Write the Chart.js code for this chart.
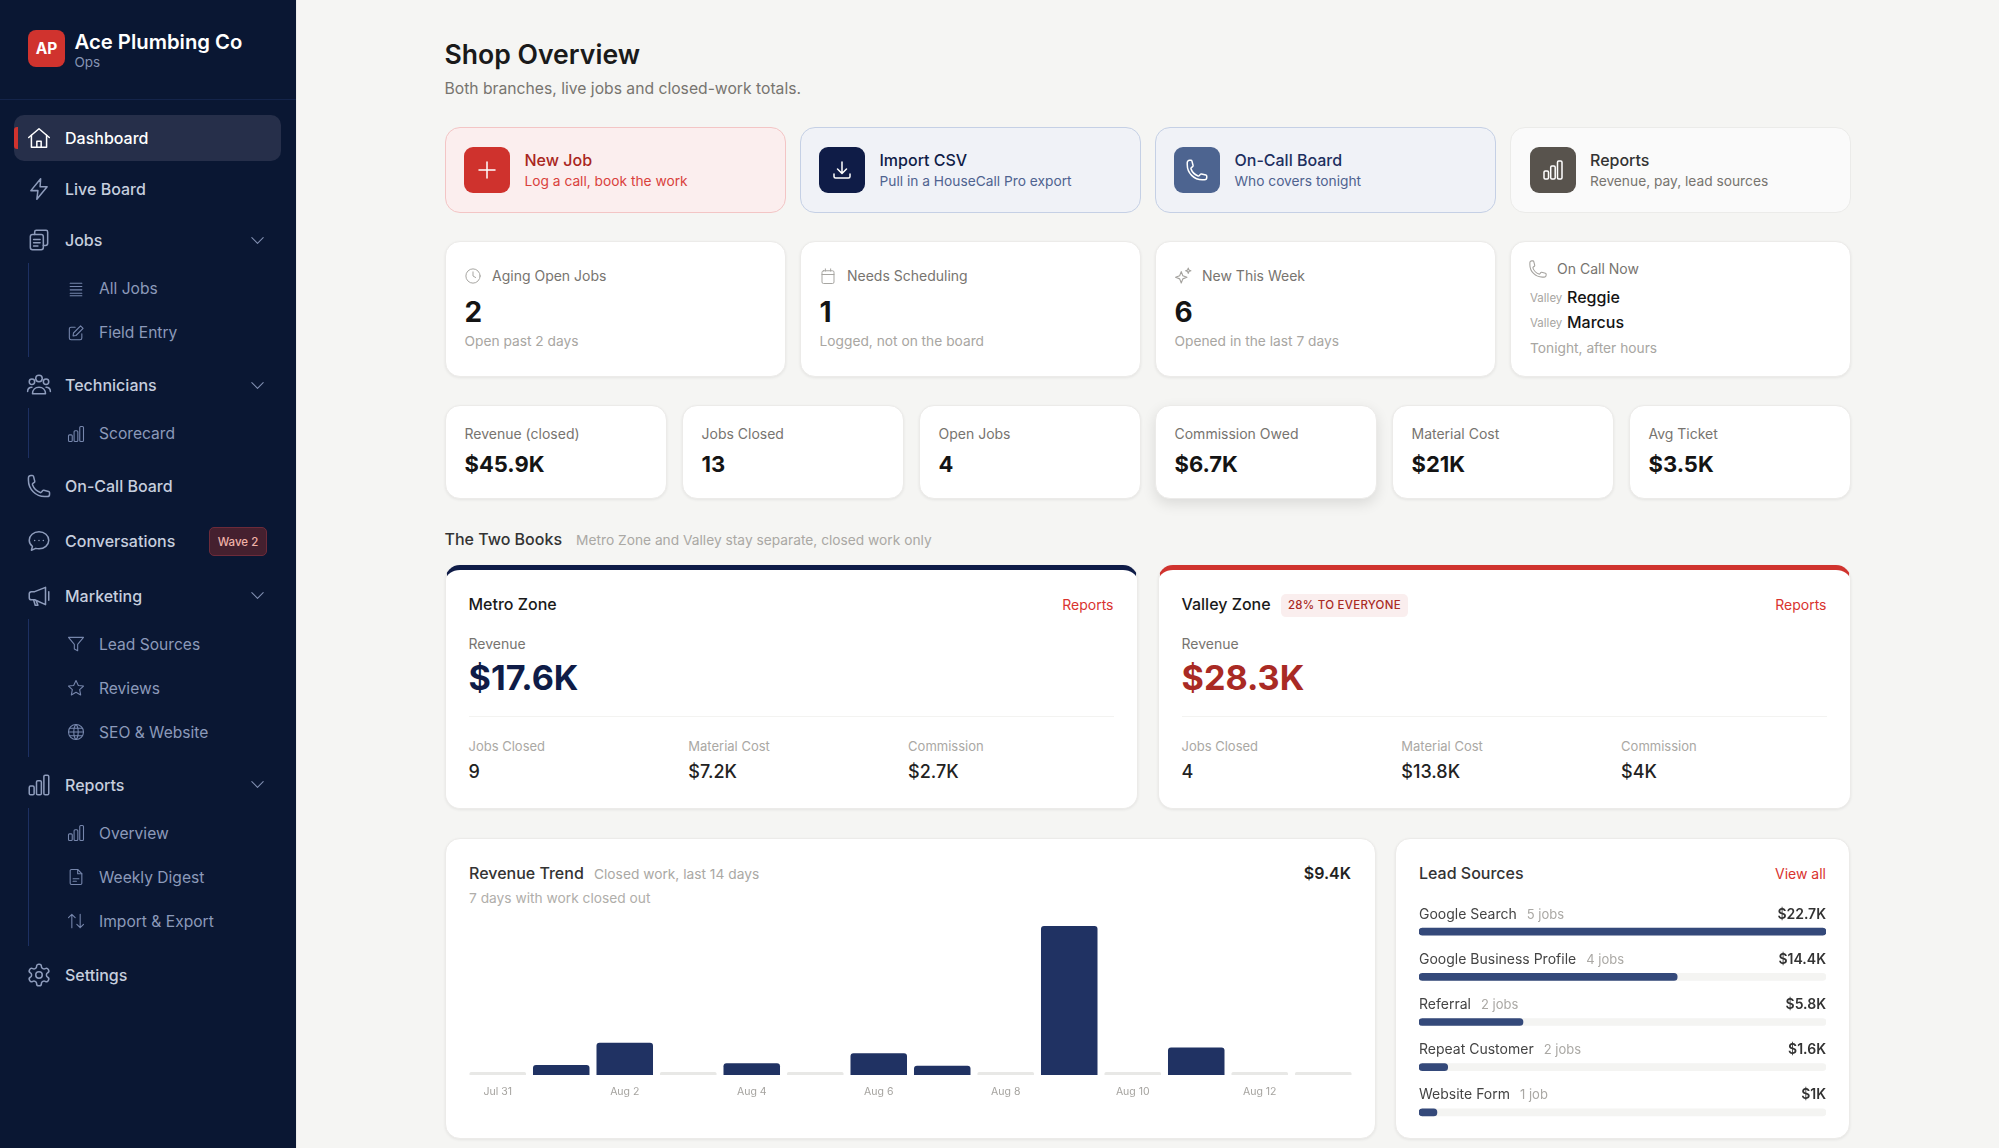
<!DOCTYPE html>
<html>
<head>
<meta charset="utf-8">
<title>Shop Overview</title>
<script src="https://cdn.jsdelivr.net/npm/chart.js@4"></script>
<style>
*{box-sizing:border-box;margin:0;padding:0}
html,body{width:1999px;height:1148px;overflow:hidden;background:#f5f5f3;font-family:Inter,"Noto Sans",sans-serif;-webkit-font-smoothing:antialiased}
#side{position:absolute;left:0;top:0;width:297px;height:1148px;background:#0a1733;border-right:1px solid #ececea}
#logo{position:absolute;left:28px;top:30px;width:37px;height:37px;border-radius:8px;background:#d0332e;color:#fff;font-weight:700;font-size:15.500px;display:flex;align-items:center;justify-content:center}
#brand{position:absolute;left:74.500px;top:28.500px;color:#fff;font-size:20.300px;font-weight:600;line-height:26px;white-space:nowrap}
#ops{position:absolute;left:74.500px;top:54px;color:#8593b2;font-size:13.500px;line-height:16px}
#rule{position:absolute;left:0;top:99px;width:296px;height:1px;background:#14244a}
#nav{position:absolute;left:14px;top:115px;width:267px}
.item{position:relative;height:46px;margin-bottom:5px;display:flex;align-items:center;color:#c6cede;font-size:16px;font-weight:500;border-radius:10px}
.item svg.ic{position:absolute;left:12px;top:10px;width:26px;height:26px}
.item span{position:absolute;left:51px}
.item .chev{position:absolute;left:235px;top:14.500px;width:17px;height:17px}
.item.on{background:#262f4a;color:#fff}
.item.on::before{content:"";position:absolute;left:0;top:12px;width:4px;height:22px;background:#d0332e;border-radius:3px 0 0 3px}
.wave{position:absolute;left:195px;top:9px;width:58px;height:29px;border:1px solid #6d2b3a;background:#45202f;color:#f0b2a8;border-radius:5px;font-size:11.500px;font-weight:500;display:flex;align-items:center;justify-content:center}
.group{margin:-5px 0 5px 14px;padding:3.500px 0 2.500px;border-left:1px solid #1d3062;width:253px}
.sub{position:relative;height:44px;display:flex;align-items:center;color:#8c9aba;font-size:15.600px}
.sub svg{position:absolute;left:37px;top:12px;width:20px;height:20px}
.sub span{position:absolute;left:70px}
.t{position:absolute;white-space:nowrap;transform:translateY(-50%);line-height:1.2}
.r{transform:translate(-100%,-50%)}
.box{position:absolute;border-radius:15px;background:#fff;border:1px solid #ecebe9;box-shadow:0 1px 3px rgba(0,0,0,.07)}
.tile{position:absolute;width:46px;height:46px;border-radius:9px;display:flex;align-items:center;justify-content:center}
.tile svg{width:24px;height:24px}
.smic{position:absolute;width:18px;height:18px;transform:translate(-50%,-50%)}
canvas{display:block}
#trendWrap{position:absolute;left:465.500px;top:926px;width:889px;height:184px}
#leadWrap{position:absolute;left:1419px;top:909px;width:407px;height:226px}
</style>
</head>
<body>
<div id="side">
  <div id="logo">AP</div>
  <div id="brand">Ace Plumbing Co</div>
  <div id="ops">Ops</div>
  <div id="rule"></div>
  <div id="nav"></div>
</div>
<div id="trendWrap"><canvas id="trend"></canvas></div>
<div id="leadWrap"><canvas id="lead"></canvas></div>
<script>
// chart data
const trendDays = ["Jul 31","Aug 1","Aug 2","Aug 3","Aug 4","Aug 5","Aug 6","Aug 7","Aug 8","Aug 9","Aug 10","Aug 11","Aug 12","Aug 13"];
const trendRevenue = [0,0.36,1.16,0,0.42,0,0.78,0.33,0,5.36,0,0.99,0,0];
const leadNames = ["Google Search","Google Business Profile","Referral","Repeat Customer","Website Form"];
const leadJobs = ["5 jobs","4 jobs","2 jobs","2 jobs","1 job"];
const leadRevenue = [22.7,14.4,5.8,1.6,1.0];
const leadLabels = ["$22.7K","$14.4K","$5.8K","$1.6K","$1K"];

const paths = {
  home:'<path d="M2.500 11.500 12 3.500l9.500 8"/><path d="M5 9.500V20.500h14V9.500"/><path d="M10 20.500v-5.500h4v5.500"/>',
  bolt:'<path d="M13.500 2.500 4.500 13.500H11l-1 8 9.500-11.500H13z"/>',
  jobs:'<rect x="4" y="7" width="12" height="14" rx="2"/><path d="M8 7V4.500A1.500 1.500 0 0 1 9.500 3h9A1.500 1.500 0 0 1 20 4.500V15a2 2 0 0 1-2 2h-2"/><path d="M7 11.500h6M7 14.500h6M7 17.500h4"/>',
  list:'<path d="M5 5h14M5 9h14M5 13h14M5 17h14M5 20h14"/>',
  edit:'<path d="M11 5H6a2 2 0 0 0-2 2v11a2 2 0 0 0 2 2h11a2 2 0 0 0 2-2v-5"/><path d="M17.500 3.500l3 3L12 15l-3.500.5.5-3.500z"/>',
  users:'<circle cx="12" cy="6" r="3"/><circle cx="5.500" cy="9" r="2.500"/><circle cx="18.500" cy="9" r="2.500"/><path d="M6 20c0-3.500 2.500-6 6-6s6 2.500 6 6z"/><path d="M1.500 18c0-2.500 1.500-4 4-4M22.500 18c0-2.500-1.500-4-4-4"/>',
  bars:'<rect x="3" y="13" width="4.500" height="8" rx="1.200"/><rect x="9.700" y="8" width="4.500" height="13" rx="1.200"/><rect x="16.500" y="3" width="4.500" height="18" rx="1.200"/>',
  phone:'<path d="M2.250 6.750c0 8.284 6.716 15 15 15h2.250a2.250 2.250 0 0 0 2.250-2.250v-1.372c0-.516-.351-.966-.852-1.091l-4.423-1.106c-.44-.11-.902.055-1.173.417l-.97 1.293c-.282.376-.769.542-1.21.38a12.035 12.035 0 0 1-7.143-7.143c-.162-.441.004-.928.38-1.21l1.293-.97c.363-.271.527-.734.417-1.173L6.963 3.102a1.125 1.125 0 0 0-1.091-.852H4.500A2.250 2.250 0 0 0 2.250 4.500v2.250Z"/>',
  chat:'<path d="M12 3.500c-5 0-9 3.400-9 7.800 0 2.300 1.100 4.300 2.900 5.700L5 20.500l4-1.700c1 .3 2 .4 3 .4 5 0 9-3.500 9-7.900s-4-7.800-9-7.800z"/><path d="M8 11.500h.01M12 11.500h.01M16 11.500h.01"/>',
  horn:'<path d="M3 10v3.500c0 1 1 2 2 2h3l10 4.500V4L8 8H5c-1 0-2 1-2 2z"/><path d="M7 15.500l1.500 5h2.500L9.500 16.500"/><path d="M21 8v8"/>',
  funnel:'<path d="M3 4h18l-7 8.500V20l-4-2v-5.500z"/>',
  star:'<path d="M12 3l2.800 5.900 6.200.8-4.600 4.300 1.200 6.300-5.600-3.100-5.600 3.100 1.200-6.300L3 9.700l6.200-.8z"/>',
  globe:'<circle cx="12" cy="12" r="9"/><path d="M3 12h18M4 7.500h16M4 16.500h16M12 3c3.500 3 3.500 15 0 18M12 3c-3.500 3-3.500 15 0 18"/>',
  doc:'<path d="M14 3H6.500A1.500 1.500 0 0 0 5 4.500v15A1.500 1.500 0 0 0 6.500 21h11a1.500 1.500 0 0 0 1.500-1.500V8z"/><path d="M14 3v5h5M8.500 14h7M8.500 17h4"/>',
  arrows:'<path d="M7 20V4M3 8l4-4 4 4M17 4v16M13 16l4 4 4-4"/>',
  gear:'<path d="M12.220 2h-.44a2 2 0 0 0-2 2v.18a2 2 0 0 1-1 1.730l-.43.25a2 2 0 0 1-2 0l-.15-.08a2 2 0 0 0-2.730.73l-.22.38a2 2 0 0 0 .73 2.730l.15.1a2 2 0 0 1 1 1.720v.51a2 2 0 0 1-1 1.740l-.15.09a2 2 0 0 0-.73 2.730l.22.38a2 2 0 0 0 2.730.73l.15-.08a2 2 0 0 1 2 0l.43.25a2 2 0 0 1 1 1.730V20a2 2 0 0 0 2 2h.44a2 2 0 0 0 2-2v-.18a2 2 0 0 1 1-1.730l.43-.25a2 2 0 0 1 2 0l.15.08a2 2 0 0 0 2.730-.73l.22-.39a2 2 0 0 0-.73-2.730l-.15-.08a2 2 0 0 1-1-1.740v-.5a2 2 0 0 1 1-1.740l.15-.09a2 2 0 0 0 .73-2.730l-.22-.38a2 2 0 0 0-2.730-.73l-.15.08a2 2 0 0 1-2 0l-.43-.25a2 2 0 0 1-1-1.730V4a2 2 0 0 0-2-2z"/><circle cx="12" cy="12" r="3"/>',
  chev:'<path d="M4 8l8 8 8-8"/>',
  plus:'<path d="M12 4v16M4 12h16"/>',
  download:'<path d="M12 4v11M7.500 11l4.500 4.500 4.500-4.500M4 16v2.500A1.500 1.500 0 0 0 5.500 20h13a1.500 1.500 0 0 0 1.500-1.500V16"/>',
  clock:'<circle cx="12" cy="12" r="9.500"/><path d="M12 6.500V12l3.500 2"/>',
  cal:'<rect x="4" y="5" width="16" height="17" rx="2"/><path d="M4 10h16M8.500 2.500v3M15.500 2.500v3"/>',
  spark:'<path d="M10 7l1.800 4.700 4.700 1.800-4.700 1.800L10 20l-1.800-4.700-4.700-1.800 4.700-1.800z"/><path d="M18 3l.8 2.200L21 6l-2.200.8L18 9l-.8-2.200L15 6l2.200-.8z"/>'
};
const svg = (name, color, cls, w) => `<svg class="${cls||''}" viewBox="0 0 24 24" fill="none" stroke="${color}" stroke-width="${w||1.5}" stroke-linecap="round" stroke-linejoin="round">${paths[name]}</svg>`;

// sidebar
const navRows = [
  {label:"Dashboard",icon:"home",on:true},
  {label:"Live Board",icon:"bolt"},
  {label:"Jobs",icon:"jobs",chev:true,subs:[["All Jobs","list"],["Field Entry","edit"]]},
  {label:"Technicians",icon:"users",chev:true,subs:[["Scorecard","bars"]]},
  {label:"On-Call Board",icon:"phone",gap:9},
  {label:"Conversations",icon:"chat",badge:"Wave 2",gap:8.500},
  {label:"Marketing",icon:"horn",chev:true,subs:[["Lead Sources","funnel"],["Reviews","star"],["SEO & Website","globe"]]},
  {label:"Reports",icon:"bars",chev:true,subs:[["Overview","bars"],["Weekly Digest","doc"],["Import & Export","arrows"]],after:6},
  {label:"Settings",icon:"gear"}
];
const nav = document.getElementById("nav");
navRows.forEach(row => {
  const item = document.createElement("div");
  item.className = "item" + (row.on ? " on" : "");
  if(row.gap){ item.style.marginBottom = row.gap + "px"; }
  item.innerHTML = svg(row.icon, row.on ? "#ffffff" : "#8e9cbc", "ic", 1.4) + `<span>${row.label}</span>`;
  if(row.chev){ item.innerHTML += svg("chev", "#8290b2", "chev"); }
  if(row.badge){ item.innerHTML += `<div class="wave">${row.badge}</div>`; }
  nav.appendChild(item);
  if(row.subs){
    const group = document.createElement("div");
    group.className = "group";
    if(row.after){ group.style.marginBottom = row.after + "px"; }
    row.subs.forEach(s => {
      group.innerHTML += `<div class="sub">${svg(s[1], "#7686ac", "", 1.3)}<span>${s[0].replace("&","&amp;")}</span></div>`;
    });
    nav.appendChild(group);
  }
});

// page helpers, everything placed in page pixels
const text = (x, y, str, size, weight, color, right, extra) => {
  const el = document.createElement("div");
  el.className = "t" + (right ? " r" : "");
  el.style.cssText = `left:${x}px;top:${y}px;font-size:${size}px;font-weight:${weight};color:${color};${extra||""}`;
  el.textContent = str;
  document.body.appendChild(el);
  return el;
};
const box = (x, y, w, h, extra) => {
  const el = document.createElement("div");
  el.className = "box";
  el.style.cssText = `left:${x}px;top:${y}px;width:${w}px;height:${h}px;${extra||""}`;
  document.body.appendChild(el);
  return el;
};
const smallIcon = (x, y, name, color, size) => {
  const holder = document.createElement("div");
  holder.innerHTML = svg(name, color, "smic", 1.3);
  const el = holder.firstChild;
  el.style.left = x + "px";
  el.style.top = y + "px";
  if(size){ el.style.width = size + "px"; el.style.height = size + "px"; }
  document.body.appendChild(el);
};

// header
text(444.500, 54.500, "Shop Overview", 26.600, 600, "#1a1a1a");
text(444.500, 88.500, "Both branches, live jobs and closed-work totals.", 15.700, 400, "#77746f");

// action cards
const colX = [444.500, 799.500, 1154.500, 1510];
const actions = [
  ["New Job","Log a call, book the work","plus","#fbeeee","#f3c5c5","#cf322d","#a92621","#d9413c"],
  ["Import CSV","Pull in a HouseCall Pro export","download","#f0f2f7","#c5d0e5","#0f1c47","#0f1c47","#4f6390"],
  ["On-Call Board","Who covers tonight","phone","#f0f2f7","#c5d0e5","#4d6490","#1d2f5f","#4f6390"],
  ["Reports","Revenue, pay, lead sources","bars","#fafafa","#ebebe9","#58534d","#333333","#77746f"]
];
actions.forEach((a, i) => {
  const x = colX[i];
  box(x, 127, 341, 86, `background:${a[3]};border-color:${a[4]};box-shadow:none`);
  const tile = document.createElement("div");
  tile.className = "tile";
  tile.style.cssText = `left:${x+19.500}px;top:147px;background:${a[5]}`;
  tile.innerHTML = svg(a[2], "#ffffff");
  document.body.appendChild(tile);
  text(x+80, 161, a[0], 16, 500, a[6]);
  text(x+80, 181, a[1], 13.750, 400, a[7]);
});

// stat cards
const stats = [
  ["Aging Open Jobs","2","Open past 2 days","clock"],
  ["Needs Scheduling","1","Logged, not on the board","cal"],
  ["New This Week","6","Opened in the last 7 days","spark"]
];
stats.forEach((s, i) => {
  const x = colX[i];
  box(x, 241, 341, 136);
  smallIcon(x+28.500, 276, s[3], "#a5a39f", i === 2 ? 21 : 18);
  text(x+47.500, 276, s[0], 14, 400, "#77746f");
  text(x+20, 312.500, s[1], 28, 700, "#141414");
  text(x+20, 341, s[2], 13.750, 400, "#a8a6a2");
});
box(colX[3], 241, 341, 136);
smallIcon(1538, 269, "phone", "#a5a39f", 20);
text(1557, 269, "On Call Now", 14, 400, "#77746f");
text(1530, 299, "Valley", 11.500, 400, "#a8a6a2");
text(1567, 298, "Reggie", 16, 500, "#141414");
text(1530, 324, "Valley", 11.500, 400, "#a8a6a2");
text(1567, 323, "Marcus", 16, 500, "#141414");
text(1530, 348, "Tonight, after hours", 13.750, 400, "#a8a6a2");

// KPI row
const kpis = [["Revenue (closed)","$45.9K"],["Jobs Closed","13"],["Open Jobs","4"],["Commission Owed","$6.7K"],["Material Cost","$21K"],["Avg Ticket","$3.5K"]];
const kpiX = [444.500, 681.500, 918.500, 1154.500, 1391.500, 1628.500];
kpis.forEach((k, i) => {
  box(kpiX[i], 405, 222, 94, i === 3 ? "box-shadow:0 5px 14px rgba(0,0,0,.11)" : "");
  text(kpiX[i]+20, 433.500, k[0], 14, 400, "#77746f");
  text(kpiX[i]+20, 463.500, k[1], 22, 700, "#141414");
});

// the two books
text(444.500, 539.500, "The Two Books", 16, 500, "#333333");
text(576, 539.500, "Metro Zone and Valley stay separate, closed work only", 13.750, 400, "#aaa8a4");
const zones = [
  {x:444.500,name:"Metro Zone",rev:"$17.6K",cols:["9","$7.2K","$2.7K"],bar:"#0f1c47",revColor:"#0f1c47"},
  {x:1157.500,name:"Valley Zone",rev:"$28.3K",cols:["4","$13.8K","$4K"],bar:"#d0332e",revColor:"#a92a24"}
];
const zoneLabels = ["Jobs Closed","Material Cost","Commission"];
zones.forEach(z => {
  box(z.x, 565, 693, 244, `border-top:5px solid ${z.bar}`);
  text(z.x+24, 605, z.name, 16, 500, "#1a1a1a");
  text(z.x+669, 604.500, "Reports", 14, 400, "#d9332e", true);
  text(z.x+24, 644, "Revenue", 14, 400, "#77746f");
  text(z.x+24, 677.500, z.rev, 34.200, 700, z.revColor);
  const line = document.createElement("div");
  line.style.cssText = `position:absolute;left:${z.x+24}px;top:716px;width:645px;height:1px;background:#f3f3f1`;
  document.body.appendChild(line);
  zoneLabels.forEach((l, i) => {
    text(z.x+24+i*219.800, 746.500, l, 13, 400, "#aaa8a4");
    text(z.x+24+i*219.800, 772, z.cols[i], 18, 500, "#222222");
  });
});
text(1281, 605.500, "28% TO EVERYONE", 11.500, 500, "#a92a24", false, "padding:5px 7px;background:#faeeee;border-radius:5px;letter-spacing:.25px");

// bottom cards
const trendBox = box(444.500, 838, 931, 301);
document.body.insertBefore(trendBox, document.getElementById("trendWrap"));
text(469, 874, "Revenue Trend", 16, 500, "#333333");
text(594, 873.500, "Closed work, last 14 days", 13.750, 400, "#aaa8a4");
text(1351, 874, "$9.4K", 16, 600, "#222222", true);
text(469, 898, "7 days with work closed out", 13.750, 400, "#b0aeaa");

const leadBox = box(1395, 838, 455, 301);
document.body.insertBefore(leadBox, document.getElementById("trendWrap"));
text(1419, 874, "Lead Sources", 16, 500, "#333333");
text(1826, 873.500, "View all", 14, 400, "#d9332e", true);
leadNames.forEach((name, i) => {
  const y = 914 + i * 45;
  const n = text(1419, y, name, 14, 400, "#444444");
  const j = document.createElement("span");
  j.textContent = leadJobs[i];
  j.style.cssText = "font-size:13px;color:#aaa8a4;margin-left:10px";
  n.appendChild(j);
  text(1826, y, leadLabels[i], 14, 600, "#333333", true);
});

// revenue trend bars
new Chart(document.getElementById("trend"), {
  type: "bar",
  data: {
    labels: trendDays,
    datasets: [{
      data: trendRevenue,
      backgroundColor: c => c.raw === 0 ? "#e8e8e6" : "#203263",
      borderRadius: {topLeft: 3, topRight: 3},
      borderSkipped: "bottom",
      minBarLength: 3,
      barPercentage: 0.89,
      categoryPercentage: 1
    }]
  },
  options: {
    responsive: true,
    maintainAspectRatio: false,
    animation: false,
    plugins: {legend: {display: false}, tooltip: {enabled: false}},
    layout: {padding: 0},
    scales: {
      y: {display: false, min: 0, max: Math.max(...trendRevenue)},
      x: {
        grid: {display: false},
        border: {display: false},
        afterFit: scale => { scale.height = 35; },
        ticks: {
          autoSkip: false,
          maxRotation: 0,
          padding: 3,
          color: "#a5a39f",
          font: {family: "Inter", size: 10.500},
          callback: (v, i) => i % 2 === 0 ? trendDays[i] : ""
        }
      }
    }
  }
});

// lead source bars, pale track behind the navy fill
new Chart(document.getElementById("lead"), {
  type: "bar",
  data: {
    labels: leadNames,
    datasets: [
      {data: leadRevenue, backgroundColor: "#34497a", barThickness: 7, borderRadius: 4, borderSkipped: false, grouped: false},
      {data: leadRevenue.map(() => Math.max(...leadRevenue)), backgroundColor: "#f4f4f2", barThickness: 7, borderRadius: 4, borderSkipped: false, grouped: false}
    ]
  },
  options: {
    indexAxis: "y",
    responsive: true,
    maintainAspectRatio: false,
    animation: false,
    plugins: {legend: {display: false}, tooltip: {enabled: false}},
    layout: {padding: 0},
    scales: {
      x: {display: false, min: 0, max: Math.max(...leadRevenue)},
      y: {display: false}
    }
  }
});
</script>
</body>
</html>
